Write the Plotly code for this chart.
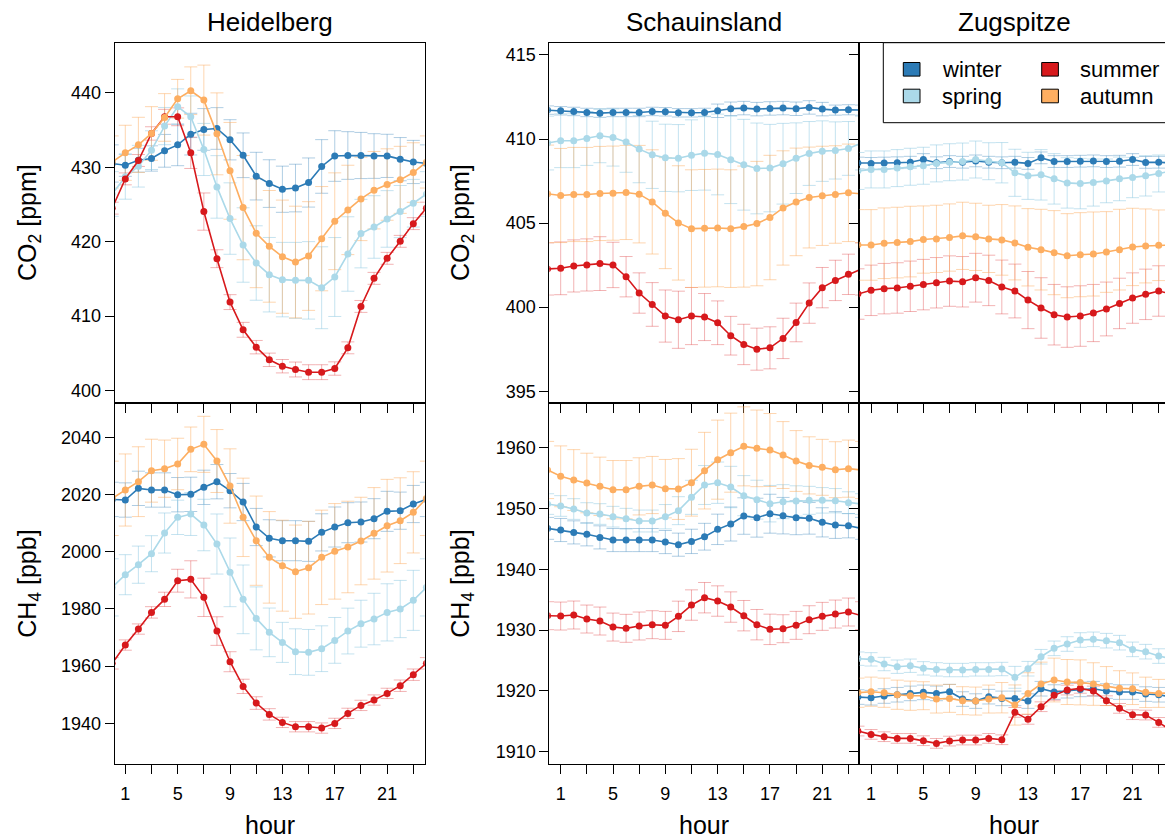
import plotly.graph_objects as go

W, H = 1165, 839

hours = list(range(25))
label_hours = [1, 5, 9, 13, 17, 21]
minor_hours = [3, 7, 11, 15, 19, 23]
seasons = ['winter', 'spring', 'summer', 'autumn']
colors = {'winter': '#2C7BB6', 'spring': '#ABD9E9', 'summer': '#D7191C', 'autumn': '#FDAE61'}
err_colors = {'winter': 'rgba(44,123,182,0.38)', 'spring': 'rgba(140,200,225,0.5)',
              'summer': 'rgba(215,25,28,0.33)', 'autumn': 'rgba(253,174,97,0.5)'}
sites = ['Heidelberg', 'Schauinsland', 'Zugspitze']

# ---------------- Heidelberg CO2 [ppm] ----------------
hd_co2_winter = [430.5, 430.27, 430.94, 431.17, 432.2, 433.0, 434.44, 435.07, 435.2, 433.68, 431.6, 428.8, 427.8,
                 427.04, 427.2, 427.94, 430.1, 431.5, 431.57, 431.57, 431.5, 431.52, 431.08, 430.7, 430.5]
hd_co2_spring = [426.4, 428.7, 430.13, 432.29, 435.52, 438.12, 436.77, 432.38, 427.35, 423.1, 419.55, 417.13, 415.56,
                 414.9, 414.8, 414.8, 413.81, 415.25, 418.34, 421.08, 421.97, 423.05, 424.04, 425.16, 426.4]
hd_co2_summer = [424.5, 428.43, 430.9, 434.53, 436.77, 436.77, 431.93, 424.04, 417.71, 411.88, 408.16, 405.83, 404.13,
                 403.27, 402.83, 402.47, 402.47, 402.96, 405.74, 411.3, 415.07, 417.76, 420.04, 422.42, 424.5]
hd_co2_autumn = [430.7, 431.93, 433.0, 434.53, 436.68, 439.19, 440.27, 439.01, 434.48, 429.51, 424.57, 421.12, 419.37,
                 417.98, 417.26, 418.07, 420.4, 422.74, 424.26, 425.74, 426.91, 427.67, 428.3, 429.28, 430.7]
hd_co2_winter_sd = [2.5, 1.5, 1.6, 1.7, 2.2, 2.8, 2.8, 2.8, 2.8, 2.7, 3.0, 3.2, 3.2, 3.1, 3.2, 3.3, 3.6, 3.4, 3.2, 3.1,
                    3.0, 2.9, 2.9, 2.9, 2.5]
hd_co2_spring_sd = [3.0, 3.0, 2.8, 2.6, 2.5, 2.4, 2.8, 3.5, 4.2, 4.8, 5.0, 5.0, 5.0, 5.0, 5.1, 5.2, 5.5, 5.3, 5.0, 4.6,
                    4.2, 3.8, 3.5, 3.2, 3.0]
hd_co2_summer_sd = [0.8, 0.8, 0.8, 0.9, 1.0, 1.2, 2.1, 2.5, 1.2, 1.0, 1.0, 0.9, 0.9, 0.9, 1.0, 1.0, 1.0, 0.9, 0.8, 0.8,
                    0.8, 0.8, 0.8, 0.8, 0.8]
hd_co2_autumn_sd = [3.5, 3.7, 3.7, 3.6, 3.2, 2.6, 3.2, 4.7, 5.5, 6.5, 7.0, 7.3, 7.5, 7.6, 7.5, 7.3, 7.0, 6.5, 6.0, 5.6,
                    5.2, 4.8, 4.5, 4.0, 3.5]

# ---------------- Schauinsland CO2 [ppm] ----------------
sc_co2_winter = [411.72, 411.68, 411.64, 411.58, 411.54, 411.58, 411.58, 411.58, 411.64, 411.62, 411.56, 411.56,
                 411.58, 411.68, 411.80, 411.84, 411.78, 411.82, 411.84, 411.80, 411.88, 411.78, 411.72, 411.74, 411.72]
sc_co2_spring = [409.76, 409.90, 409.90, 410.03, 410.19, 410.09, 409.82, 409.40, 409.06, 408.88, 408.86, 409.04,
                 409.16, 409.08, 408.76, 408.47, 408.25, 408.27, 408.53, 408.86, 409.14, 409.28, 409.32, 409.44, 409.76]
sc_co2_summer = [402.27, 402.31, 402.45, 402.51, 402.59, 402.51, 401.81, 400.84, 400.16, 399.47, 399.25, 399.47,
                 399.41, 399.07, 398.30, 397.78, 397.50, 397.58, 398.14, 399.09, 400.24, 401.16, 401.59, 401.95, 402.27]
sc_co2_autumn = [406.74, 406.64, 406.70, 406.70, 406.76, 406.78, 406.82, 406.72, 406.26, 405.59, 405.01, 404.67,
                 404.69, 404.71, 404.67, 404.79, 404.97, 405.33, 405.90, 406.26, 406.52, 406.62, 406.70, 406.80, 406.74]
sc_co2_winter_sd = [0.25] * 13 + [0.4] * 9 + [0.3] * 3
sc_co2_spring_sd = [1.6, 1.6, 1.6, 1.6, 1.6, 1.7, 1.8, 2.0, 2.0, 2.0, 2.0, 2.1, 2.2, 2.4, 2.6, 2.7, 2.7, 2.6, 2.4, 2.1,
                    1.9, 1.8, 1.7, 1.6, 1.6]
sc_co2_summer_sd = [1.55, 1.57, 1.55, 1.55, 1.6, 1.35, 1.2, 1.2, 1.3, 1.55, 1.7, 1.7, 1.4, 1.3, 1.15, 1.2, 1.25, 1.25,
                    1.2, 1.15, 1.2, 1.2, 1.2, 1.2, 1.55]
sc_co2_autumn_sd = [2.9, 2.8, 2.8, 2.8, 2.8, 2.8, 2.8, 2.9, 3.1, 3.3, 3.4, 3.5, 3.5, 3.5, 3.5, 3.6, 3.7, 3.7, 3.4, 3.2,
                    3.0, 2.95, 2.9, 2.9, 2.9]

# ---------------- Zugspitze CO2 [ppm] ----------------
zs_co2_winter = [408.57, 408.55, 408.57, 408.59, 408.62, 408.78, 408.59, 408.66, 408.62, 408.70, 408.62, 408.59,
                 408.62, 408.55, 408.88, 408.66, 408.66, 408.68, 408.70, 408.66, 408.68, 408.78, 408.61, 408.62, 408.57]
zs_co2_spring = [408.1, 408.19, 408.19, 408.27, 408.35, 408.41, 408.55, 408.62, 408.66, 408.78, 408.68, 408.59,
                 407.99, 407.81, 407.87, 407.63, 407.39, 407.35, 407.41, 407.51, 407.63, 407.71, 407.81, 407.95, 408.1]
zs_co2_summer = [400.78, 401.00, 401.10, 401.14, 401.24, 401.34, 401.45, 401.55, 401.51, 401.75, 401.59, 401.20,
                 400.96, 400.42, 399.95, 399.55, 399.41, 399.47, 399.65, 399.89, 400.22, 400.54, 400.76, 400.96, 400.78]
zs_co2_autumn = [403.70, 403.70, 403.80, 403.84, 403.90, 404.02, 404.06, 404.14, 404.24, 404.18, 404.06, 404.00,
                 403.82, 403.56, 403.42, 403.24, 403.06, 403.12, 403.16, 403.28, 403.42, 403.58, 403.64, 403.68, 403.70]
zs_co2_winter_sd = [0.35] * 25
zs_co2_spring_sd = [1.1, 1.1, 1.1, 1.1, 1.1, 1.1, 1.1, 1.1, 1.1, 1.1, 1.1, 1.2, 1.4, 1.4, 1.5, 1.5, 1.5, 1.5, 1.4, 1.3,
                    1.3, 1.2, 1.2, 1.1, 1.1]
zs_co2_summer_sd = [1.5, 1.5, 1.5, 1.5, 1.5, 1.5, 1.5, 1.5, 1.5, 1.45, 1.5, 1.6, 1.6, 1.7, 1.8, 1.8, 1.8, 1.8, 1.7, 1.6,
                    1.5, 1.5, 1.5, 1.5, 1.5]
zs_co2_autumn_sd = [2.1, 2.1, 2.1, 2.1, 2.1, 2.0, 2.0, 2.0, 2.0, 2.0, 2.0, 2.1, 2.2, 2.3, 2.4, 2.5, 2.5, 2.5, 2.5, 2.4,
                    2.4, 2.3, 2.2, 2.1, 2.1]

# ---------------- Heidelberg CH4 [ppb] ----------------
hd_ch4_winter = [2018.3, 2018.09, 2022.17, 2021.59, 2021.59, 2019.95, 2020.07, 2022.52, 2024.5, 2021.35, 2017.39,
                 2008.65, 2004.69, 2003.87, 2003.87, 2003.64, 2006.78, 2008.65, 2010.16, 2010.4, 2011.56, 2014.13,
                 2014.36, 2016.69, 2018.3]
hd_ch4_spring = [1987.55, 1991.98, 1995.48, 1999.32, 2006.55, 2012.03, 2013.19, 2009.35, 2002.7, 1992.8, 1983.36,
                 1976.71, 1971.82, 1968.32, 1965.06, 1964.83, 1966.11, 1969.02, 1972.28, 1974.85, 1976.48, 1978.81,
                 1979.98, 1983.01, 1987.55]
hd_ch4_summer = [1961.0, 1967.39, 1972.98, 1978.81, 1983.36, 1989.88, 1990.35, 1984.06, 1972.28, 1961.56, 1952.94,
                 1947.11, 1943.15, 1940.35, 1938.83, 1938.83, 1938.37, 1940.0, 1943.5, 1946.29, 1948.16, 1950.49,
                 1953.17, 1957.02, 1961.0]
hd_ch4_autumn = [2018.67, 2021.59, 2024.5, 2028.34, 2029.04, 2030.68, 2035.8, 2037.55, 2031.72, 2022.98, 2012.03,
                 2003.87, 1998.04, 1995.13, 1993.03, 1994.43, 1998.04, 2000.14, 2001.66, 2003.75, 2006.43, 2009.11,
                 2010.86, 2013.78, 2018.67]
hd_ch4_winter_sd = [6, 6, 6, 6, 6, 6, 6, 6, 6, 6, 6.5, 6.5, 6.5, 7, 7, 7, 6.5, 7, 7, 7, 7, 7, 6.5, 6.5, 6]
hd_ch4_spring_sd = [10, 7, 6.5, 6.3, 7, 6, 7.5, 9, 10.5, 12, 12, 11, 8.5, 7, 8, 8, 8, 8, 8, 8.2, 9, 10, 10, 10.5, 10]
hd_ch4_summer_sd = [2, 1.8, 1.8, 2, 2.5, 4, 6.5, 6.7, 5, 3.5, 2.5, 2.2, 2, 1.8, 1.8, 1.8, 1.8, 1.8, 1.8, 1.8, 1.8, 1.8,
                    2, 2, 2]
hd_ch4_autumn_sd = [13, 12.6, 12.2, 11, 10, 9, 7.8, 9.8, 11, 13, 13.7, 15.6, 16, 15.9, 16.3, 16.2, 16.5, 16.7, 16,
                    15.3, 16, 16.2, 15, 14.2, 13]

# ---------------- Schauinsland CH4 [ppb] ----------------
sc_ch4_winter = [1946.73, 1946.46, 1946.07, 1945.75, 1945.25, 1944.81, 1944.81, 1944.81, 1944.81, 1944.48, 1944.05,
                 1944.59, 1945.36, 1946.57, 1947.45, 1948.76, 1948.49, 1949.14, 1948.82, 1948.49, 1948.38, 1947.72,
                 1947.28, 1947.17, 1946.73]
sc_ch4_spring = [1950.73, 1950.41, 1949.91, 1949.25, 1949.09, 1948.65, 1948.32, 1947.94, 1947.94, 1948.65, 1949.64,
                 1951.83, 1953.86, 1954.24, 1953.53, 1952.11, 1951.45, 1950.79, 1951.12, 1951.23, 1951.34, 1951.34,
                 1951.28, 1950.95, 1950.73]
sc_ch4_summer = [1932.37, 1932.31, 1932.48, 1931.82, 1931.49, 1930.5, 1930.29, 1930.67, 1930.89, 1930.78, 1932.26,
                 1934.12, 1935.33, 1934.78, 1933.79, 1932.37, 1930.89, 1930.12, 1930.23, 1930.78, 1931.71, 1932.26,
                 1932.64, 1932.97, 1932.37]
sc_ch4_autumn = [1956.33, 1955.29, 1954.68, 1954.19, 1953.64, 1953.09, 1953.09, 1953.64, 1953.86, 1953.26, 1953.2,
                 1954.24, 1956.22, 1958.03, 1959.18, 1960.22, 1959.89, 1959.62, 1958.79, 1957.81, 1957.09, 1956.77,
                 1956.38, 1956.55, 1956.33]
sc_ch4_winter_sd = [1.8, 1.9, 1.9, 1.9, 1.9, 1.9, 1.9, 1.9, 1.9, 1.9, 1.9, 2.0, 2.2, 2.5, 2.8, 3.0, 3.2, 3.2, 3.0, 2.8,
                    2.6, 2.4, 2.2, 2.0, 1.8]
sc_ch4_spring_sd = [1.7, 1.7, 1.7, 1.7, 1.7, 1.7, 1.7, 1.8, 1.8, 2.0, 2.3, 2.8, 3.2, 3.4, 3.4, 3.3, 3.2, 3.0, 2.8, 2.5,
                    2.3, 2.1, 2.0, 1.8, 1.7]
sc_ch4_summer_sd = [2.3] * 10 + [2.5] * 8 + [2.3] * 7
sc_ch4_autumn_sd = [4.7, 5.0, 5.0, 4.9, 4.8, 4.8, 4.8, 4.7, 4.7, 4.8, 5.0, 5.5, 6.3, 6.5, 6.5, 6.5, 6.3, 6.0, 5.5, 5.0,
                    4.7, 4.6, 4.6, 4.7, 4.7]

# ---------------- Zugspitze CH4 [ppb] ----------------
zs_ch4_winter = [1918.99, 1918.88, 1919.16, 1919.37, 1919.59, 1919.76, 1919.59, 1919.87, 1918.66, 1918.33, 1919.05,
                 1918.77, 1918.77, 1918.33, 1920.36, 1919.81, 1920.03, 1920.25, 1920.36, 1919.98, 1919.81, 1919.81,
                 1919.48, 1919.37, 1918.99]
zs_ch4_spring = [1925.3, 1925.19, 1924.42, 1923.98, 1924.14, 1923.71, 1923.54, 1923.43, 1923.43, 1923.54, 1923.54,
                 1923.6, 1922.23, 1923.65, 1925.62, 1927.0, 1927.71, 1928.37, 1928.48, 1928.26, 1927.93, 1926.83,
                 1926.45, 1925.73, 1925.3]
zs_ch4_summer = [1913.4, 1912.85, 1912.47, 1912.19, 1912.19, 1911.81, 1911.37, 1911.75, 1911.92, 1911.92, 1912.19,
                 1911.97, 1916.47, 1915.32, 1917.4, 1919.27, 1920.14, 1920.42, 1919.98, 1918.39, 1917.13, 1916.09,
                 1916.03, 1914.82, 1913.4]
zs_ch4_autumn = [1919.7, 1919.87, 1919.7, 1919.37, 1919.21, 1919.21, 1918.66, 1918.77, 1918.39, 1918.33, 1918.66,
                 1918.88, 1917.68, 1919.59, 1921.13, 1921.79, 1921.46, 1921.4, 1921.13, 1920.8, 1920.42, 1920.36,
                 1919.76, 1919.59, 1919.7]
zs_ch4_winter_sd = [1.2] * 25
zs_ch4_spring_sd = [1.1] * 12 + [1.8] + [1.2] * 12
zs_ch4_summer_sd = [0.8] * 25
zs_ch4_autumn_sd = [2.4, 2.4, 2.4, 2.4, 2.4, 2.3, 2.3, 2.3, 2.3, 2.3, 2.3, 2.5, 3.3, 3.4, 3.6, 3.6, 3.7, 3.7, 3.5, 3.2,
                    2.9, 2.6, 2.5, 2.3, 2.4]

co2_label = 'CO<sub>2</sub> [ppm]'
ch4_label = 'CH<sub>4</sub> [ppb]'
x_label = 'hour'

# ---------------- layout helpers ----------------
def px(x):
    return x / W

def py(y):
    return 1 - y / H

col_px = [(114.7, 424.7), (549.3, 859.3), (859.3, 1165.0)]
xranges = [[0.19, 23.87], [0.13, 23.83], [0.10, 23.48]]
row_px = [(42.7, 403.3), (403.3, 764.3)]

panels = [
    (0, 0, {'winter': (hd_co2_winter, hd_co2_winter_sd), 'spring': (hd_co2_spring, hd_co2_spring_sd),
            'summer': (hd_co2_summer, hd_co2_summer_sd), 'autumn': (hd_co2_autumn, hd_co2_autumn_sd)}),
    (0, 1, {'winter': (sc_co2_winter, sc_co2_winter_sd), 'spring': (sc_co2_spring, sc_co2_spring_sd),
            'summer': (sc_co2_summer, sc_co2_summer_sd), 'autumn': (sc_co2_autumn, sc_co2_autumn_sd)}),
    (0, 2, {'winter': (zs_co2_winter, zs_co2_winter_sd), 'spring': (zs_co2_spring, zs_co2_spring_sd),
            'summer': (zs_co2_summer, zs_co2_summer_sd), 'autumn': (zs_co2_autumn, zs_co2_autumn_sd)}),
    (1, 0, {'winter': (hd_ch4_winter, hd_ch4_winter_sd), 'spring': (hd_ch4_spring, hd_ch4_spring_sd),
            'summer': (hd_ch4_summer, hd_ch4_summer_sd), 'autumn': (hd_ch4_autumn, hd_ch4_autumn_sd)}),
    (1, 1, {'winter': (sc_ch4_winter, sc_ch4_winter_sd), 'spring': (sc_ch4_spring, sc_ch4_spring_sd),
            'summer': (sc_ch4_summer, sc_ch4_summer_sd), 'autumn': (sc_ch4_autumn, sc_ch4_autumn_sd)}),
    (1, 2, {'winter': (zs_ch4_winter, zs_ch4_winter_sd), 'spring': (zs_ch4_spring, zs_ch4_spring_sd),
            'summer': (zs_ch4_summer, zs_ch4_summer_sd), 'autumn': (zs_ch4_autumn, zs_ch4_autumn_sd)}),
]

yranges = {0: {0: [398.29, 446.72], 1: [394.28, 415.73]},
           1: {0: [1925.7, 2051.9], 1: [1907.93, 1967.3]}}
ytickvals = {0: {0: [400, 410, 420, 430, 440], 1: [395, 400, 405, 410, 415]},
             1: {0: [1940, 1960, 1980, 2000, 2020, 2040], 1: [1910, 1920, 1930, 1940, 1950, 1960]}}

FONT = 'Liberation Sans, Arial, Helvetica, sans-serif'
fig = go.Figure()
layout = {}

for idx, (r, c, data) in enumerate(panels, start=1):
    xa = 'x' if idx == 1 else 'x%d' % idx
    ya = 'y' if idx == 1 else 'y%d' % idx
    for s in seasons:
        vals, sd = data[s]
        fig.add_trace(go.Scatter(x=hours, y=vals, xaxis=xa, yaxis=ya, mode='markers',
                                 marker=dict(size=1, color='rgba(0,0,0,0)'),
                                 error_y=dict(type='data', array=sd, visible=True, color=err_colors[s],
                                              thickness=1, width=6.5),
                                 hoverinfo='skip', showlegend=False))
    for s in seasons:
        vals, sd = data[s]
        fig.add_trace(go.Scatter(x=hours, y=vals, xaxis=xa, yaxis=ya, mode='lines+markers',
                                 line=dict(color=colors[s], width=1.6),
                                 marker=dict(size=7, color=colors[s]),
                                 name=s, showlegend=False))

    x0, x1 = col_px[c]
    y0, y1 = row_px[r]
    xkey = 'xaxis' if idx == 1 else 'xaxis%d' % idx
    ykey = 'yaxis' if idx == 1 else 'yaxis%d' % idx
    xdict = dict(domain=[px(x0), px(x1)], anchor=ya, range=xranges[c], tickmode='array',
                 tickvals=label_hours, ticktext=[str(h) for h in label_hours],
                 ticks='outside', ticklen=9, tickwidth=1, tickcolor='black',
                 minor=dict(tickmode='array', tickvals=minor_hours, ticks='outside', ticklen=9,
                            tickwidth=1, tickcolor='black', showgrid=False),
                 showline=True, linecolor='black', linewidth=1, mirror=True,
                 showgrid=False, zeroline=False,
                 tickfont=dict(family=FONT, size=18, color='black'))
    if r == 1:
        xdict.update(showticklabels=True, ticklabelstandoff=4)
    else:
        xdict.update(showticklabels=False)
    layout[xkey] = xdict

    ydict = dict(domain=[py(y1), py(y0)], anchor=xa, showgrid=False, zeroline=False,
                 ticks='outside', ticklen=9, tickwidth=1, tickcolor='black',
                 showline=True, linecolor='black', linewidth=1,
                 tickfont=dict(family=FONT, size=18, color='black'))
    if c < 2:
        ydict.update(range=yranges[r][c], tickmode='array', tickvals=ytickvals[r][c],
                     showticklabels=True, mirror=True)
    else:
        ref = 'y2' if r == 0 else 'y5'
        ydict.update(range=yranges[r][1], tickmode='array', tickvals=ytickvals[r][1],
                     showticklabels=False, mirror=False, matches=ref)
    layout[ykey] = ydict

annotations = []
for c, name in enumerate(sites):
    cx = (col_px[c][0] + col_px[c][0] + 310) / 2
    annotations.append(dict(text=name, x=px(cx), y=py(22), xref='paper', yref='paper',
                            xanchor='center', yanchor='middle', showarrow=False,
                            font=dict(family=FONT, size=26, color='black')))
    annotations.append(dict(text=x_label, x=px(cx), y=py(825), xref='paper', yref='paper',
                            xanchor='center', yanchor='middle', showarrow=False,
                            font=dict(family=FONT, size=25, color='black')))
for r, lab in enumerate([co2_label, ch4_label]):
    cy = (row_px[r][0] + row_px[r][1]) / 2
    for xpos in (29, 462):
        annotations.append(dict(text=lab, x=px(xpos), y=py(cy), xref='paper', yref='paper',
                                xanchor='center', yanchor='middle', textangle=-90, showarrow=False,
                                font=dict(family=FONT, size=25, color='black')))

# legend key drawn as a box in the top-right corner
shapes = [dict(type='rect', xref='paper', yref='paper', x0=px(883.3), x1=px(1180), y0=py(122.7), y1=py(42.7),
               line=dict(color='black', width=1), fillcolor='white', layer='above')]
legend_pos = {'winter': (903.3, 69.3), 'spring': (903.3, 96.0), 'summer': (1041.7, 69.3), 'autumn': (1041.7, 96.0)}
for s in seasons:
    lx, ly = legend_pos[s]
    shapes.append(dict(type='rect', xref='paper', yref='paper', x0=px(lx), x1=px(lx + 16.7),
                       y0=py(ly + 6.8), y1=py(ly - 6.8), line=dict(color='black', width=1),
                       fillcolor=colors[s], layer='above'))
    annotations.append(dict(text=s, x=px(lx + 36.7), y=py(ly), xref='paper', yref='paper',
                            xanchor='left', yanchor='middle', showarrow=False,
                            font=dict(family=FONT, size=22, color='black')))

fig.update_layout(width=W, height=H, margin=dict(l=0, r=0, t=0, b=0, pad=0),
                  paper_bgcolor='white', plot_bgcolor='white', showlegend=False,
                  annotations=annotations, shapes=shapes, **layout)

fig.write_html('out.html')
